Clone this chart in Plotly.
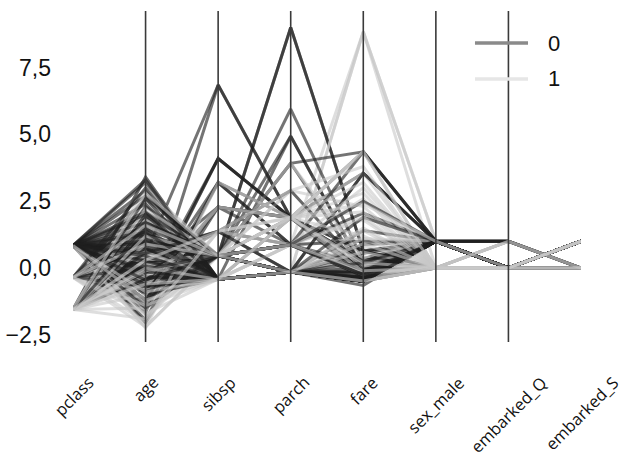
import plotly.graph_objects as go

features = ["pclass", "age", "sibsp", "parch", "fare", "sex_male", "embarked_Q", "embarked_S"]
y_ticks = [-2.5, 0.0, 2.5, 5.0, 7.5]
legend_labels = ["0", "1"]

# standardized rows:
# pclass, age, sibsp, parch, fare, sex_male, embarked_Q, embarked_S
rows_0 = [
    [0.84, -0.53, -0.42, -0.15, -0.50, 1, 0, 1],
    [0.84, 0.40, -0.42, -0.15, -0.49, 1, 0, 1],
    [0.84, 0.00, -0.42, -0.15, -0.48, 1, 1, 0],
    [-1.55, 1.87, -0.42, -0.15, 0.36, 1, 0, 1],
    [0.84, -2.05, 2.28, 0.87, -0.22, 1, 0, 1],
    [0.84, -0.20, 0.46, -0.15, -0.49, 1, 0, 0],
    [0.84, 2.90, -0.42, -0.15, -0.49, 1, 0, 1],
    [-1.55, 0.95, 0.46, -0.15, 0.88, 1, 0, 0],
    [0.84, -0.85, 3.20, 0.87, -0.08, 1, 1, 0],
    [0.84, 0.62, -0.42, 4.93, -0.08, 0, 1, 0],
    [0.84, -1.70, 6.85, 1.88, 0.64, 1, 0, 1],
    [0.84, 0.50, 6.85, 1.88, 0.64, 0, 0, 1],
    [0.84, 1.20, 0.46, 9.00, 0.64, 1, 0, 1],
    [0.84, 0.90, 0.46, 9.00, 0.64, 0, 0, 1],
    [0.84, -1.30, 4.10, 1.88, 0.25, 1, 0, 1],
    [0.84, -0.90, 4.10, 1.88, 0.25, 0, 0, 1],
    [0.84, 0.85, 0.46, 5.95, 0.25, 1, 0, 1],
    [0.84, 0.75, 0.46, 4.93, -0.03, 1, 0, 1],
    [0.84, -1.60, 3.20, 1.88, -0.03, 0, 0, 1],
    [0.84, 0.55, 0.46, 3.92, -0.12, 1, 0, 1],
    [0.84, -1.40, 2.28, 1.88, -0.12, 1, 0, 1],
    [0.84, -1.95, 3.20, 0.87, 0.13, 1, 0, 1],
    [-0.35, 0.30, -0.42, -0.15, -0.39, 1, 0, 1],
    [-0.35, 1.10, 0.46, -0.15, -0.14, 1, 0, 1],
    [-1.55, 0.10, 2.28, 1.88, 4.35, 1, 0, 1],
    [-1.55, 2.30, 0.46, 3.92, 4.35, 1, 0, 1],
    [-1.55, 1.60, 0.46, 1.88, 3.55, 1, 0, 0],
    [-1.55, 0.20, -0.42, -0.15, 3.55, 1, 0, 0],
    [0.84, -0.30, -0.42, -0.15, -0.50, 1, 0, 1],
    [0.84, 0.15, 1.37, -0.15, -0.30, 1, 0, 1],
    [0.84, 1.50, -0.42, -0.15, -0.48, 1, 0, 1],
    [0.84, -0.60, 0.46, -0.15, -0.35, 0, 0, 1],
    [0.84, -1.00, -0.42, -0.15, -0.49, 1, 1, 0],
    [-1.55, 3.40, -0.42, -0.15, 0.00, 1, 0, 0],
    [-0.35, 2.10, 0.46, -0.15, -0.14, 1, 0, 1],
    [0.84, 0.05, 0.46, 0.87, -0.25, 1, 0, 1],
    [0.84, -0.75, -0.42, -0.15, -0.65, 1, 0, 1],
    [-1.55, 0.70, 0.46, -0.15, 1.40, 1, 0, 1],
    [-1.55, 1.30, -0.42, -0.15, 0.55, 1, 0, 1],
    [0.84, 2.40, -0.42, -0.15, -0.49, 1, 0, 1],
    [0.84, -0.10, -0.42, -0.15, -0.49, 1, 0, 1],
    [-0.35, -0.40, -0.42, -0.15, -0.39, 1, 0, 1],
    [0.84, 0.60, 1.37, 0.87, -0.17, 1, 0, 1],
    [-1.55, -0.40, 0.46, 0.87, 2.05, 1, 0, 0],
    [0.84, -0.45, 0.46, -0.15, -0.49, 1, 0, 1],
    [0.84, 1.90, 0.46, 0.87, -0.30, 1, 0, 1],
    [-0.35, 0.25, 0.46, 0.87, -0.10, 1, 0, 1],
    [0.84, -0.95, 2.28, 1.88, -0.10, 0, 0, 1],
    [0.84, 0.30, -0.42, 1.88, -0.30, 0, 0, 1],
    [-1.55, 2.00, 0.46, 0.87, 1.00, 1, 0, 1],
    [0.84, 3.20, -0.42, -0.15, -0.49, 1, 1, 0],
    [-0.35, 1.40, -0.42, -0.15, -0.39, 1, 0, 1],
    [0.84, -0.20, 1.37, 2.90, -0.05, 1, 0, 1],
    [0.84, -1.20, 4.10, 1.88, 0.25, 1, 0, 1],
    [-1.55, 0.60, 0.46, 0.87, 4.35, 1, 0, 0],
    [-1.55, 1.00, 0.46, -0.15, 3.55, 1, 0, 1],
    [0.84, 1.00, -0.42, -0.15, -0.49, 1, 0, 1],
    [0.84, 2.10, -0.42, -0.15, -0.47, 1, 0, 1],
    [0.84, -0.90, 0.46, -0.15, -0.35, 1, 0, 1],
    [-0.35, 2.60, -0.42, -0.15, -0.39, 1, 0, 1],
    [0.84, 0.70, -0.42, -0.15, -0.49, 1, 1, 0],
    [0.84, -0.35, -0.42, -0.15, -0.49, 1, 0, 0],
    [-0.35, -0.70, -0.42, -0.15, -0.39, 1, 0, 1],
    [0.84, 1.70, 0.46, -0.15, -0.35, 1, 0, 1],
    [0.84, 3.30, -0.42, -0.15, -0.49, 1, 0, 1],
    [0.84, -1.50, 0.46, 0.87, -0.30, 1, 0, 1],
    [-0.35, 0.80, 0.46, 0.87, -0.10, 1, 0, 1],
    [0.84, 0.25, -0.42, -0.15, -0.50, 1, 0, 1],
    [0.84, -0.15, -0.42, -0.15, -0.48, 1, 0, 1],
    [-1.55, 1.10, -0.42, -0.15, 0.20, 1, 0, 1],
    [0.84, 2.70, 0.46, -0.15, -0.40, 1, 0, 1],
    [-0.35, 1.70, 0.46, -0.15, -0.14, 1, 0, 1],
    [0.84, -0.65, -0.42, -0.15, -0.49, 1, 0, 1],
    [0.84, 0.90, -0.42, -0.15, -0.49, 1, 0, 0],
    [0.84, -1.20, 0.46, -0.15, -0.40, 1, 0, 1],
    [-0.35, 0.00, -0.42, -0.15, -0.39, 1, 0, 1],
    [0.84, 1.25, 0.46, 0.87, -0.25, 1, 0, 1],
    [0.84, 0.45, -0.42, -0.15, -0.49, 0, 0, 1],
    [-1.55, 2.60, 0.46, -0.15, 1.90, 1, 0, 0],
    [0.84, -0.05, 0.46, -0.15, -0.35, 1, 0, 1],
    [0.84, 2.00, -0.42, -0.15, -0.50, 1, 0, 1],
    [-0.35, 3.00, -0.42, -0.15, -0.39, 1, 0, 1],
    [0.84, 0.55, 1.37, -0.15, -0.20, 1, 0, 1],
    [0.84, -0.45, 0.46, 0.87, -0.25, 1, 0, 1],
    [-1.55, 1.45, 0.46, 0.87, 2.50, 1, 0, 1],
    [0.84, 1.35, -0.42, -0.15, -0.49, 1, 0, 1],
]
rows_1 = [
    [-1.55, 0.65, 0.46, -0.15, 0.79, 0, 0, 0],
    [0.84, -0.25, -0.42, -0.15, -0.49, 0, 0, 1],
    [-1.55, 0.40, 0.46, -0.15, 0.42, 0, 0, 1],
    [-0.35, -1.10, 0.46, -0.15, -0.05, 0, 0, 0],
    [0.84, -2.20, 0.46, 0.87, -0.32, 0, 0, 1],
    [-1.55, 0.50, -0.42, 0.87, 8.84, 1, 0, 0],
    [-1.55, 0.10, -0.42, -0.15, 8.84, 0, 0, 0],
    [-1.55, 0.20, -0.42, -0.15, 8.84, 1, 0, 0],
    [-1.55, 3.40, -0.42, -0.15, 0.00, 1, 0, 1],
    [-0.35, -2.20, 0.46, 0.87, -0.15, 1, 0, 1],
    [0.84, -1.80, 0.46, 0.87, -0.35, 0, 0, 0],
    [-1.55, -1.50, 0.46, 1.88, 2.80, 0, 0, 0],
    [-1.55, 1.50, 0.46, 0.87, 1.80, 0, 0, 1],
    [-1.55, 2.50, -0.42, 0.87, 1.10, 0, 0, 0],
    [0.84, -0.50, -0.42, -0.15, -0.49, 0, 1, 0],
    [-0.35, 0.10, 0.46, 0.87, -0.14, 0, 0, 1],
    [-1.55, -0.20, 0.46, 1.88, 4.35, 0, 0, 1],
    [-1.55, 0.80, 0.46, 1.88, 3.55, 0, 0, 0],
    [-0.35, -2.00, 1.37, 0.87, 0.00, 0, 0, 1],
    [0.84, -1.30, 0.46, 2.90, -0.10, 0, 0, 1],
    [-1.55, 1.00, -0.42, -0.15, 1.50, 0, 0, 0],
    [-1.55, -0.70, 2.28, 1.88, 4.35, 0, 0, 1],
    [0.84, 0.20, -0.42, -0.15, -0.48, 1, 0, 1],
    [-0.35, 2.00, 0.46, 3.92, 0.30, 0, 0, 1],
    [-1.55, 1.80, 0.46, 2.90, 2.30, 0, 0, 0],
    [-1.55, 0.30, 0.46, -0.15, 1.10, 1, 0, 1],
    [-0.35, -0.80, -0.42, 1.88, -0.14, 0, 0, 1],
    [-1.55, -1.00, 2.28, 1.88, 4.35, 0, 0, 1],
    [0.84, -1.60, 1.37, 0.87, -0.20, 0, 1, 0],
    [-1.55, 3.00, 0.46, -0.15, 1.40, 0, 0, 0],
    [-0.35, 0.60, -0.42, -0.15, -0.39, 0, 0, 1],
    [-1.55, -0.30, 1.37, 1.88, 2.10, 0, 0, 0],
    [0.84, -2.25, 3.20, 1.88, 0.10, 0, 0, 1],
    [-1.55, 0.90, -0.42, -0.15, 0.60, 0, 0, 1],
    [-1.55, 2.20, 0.46, 0.87, 3.00, 0, 0, 0],
    [-0.35, -1.70, -0.42, 0.87, -0.25, 0, 0, 1],
    [-1.55, -0.10, 0.46, 0.87, 2.60, 0, 0, 1],
    [-0.35, -1.40, -0.42, 0.87, -0.20, 0, 0, 1],
    [-1.55, 1.20, 0.46, 1.88, 3.20, 0, 0, 0],
    [0.84, -0.90, -0.42, -0.15, -0.49, 0, 0, 1],
    [-1.55, 0.00, -0.42, 0.87, 1.90, 0, 0, 0],
    [-0.35, 0.90, 0.46, 1.88, 0.20, 0, 0, 1],
    [-1.55, -1.90, 1.37, 1.88, 2.40, 1, 0, 1],
    [-1.55, 2.80, 0.46, -0.15, 0.90, 0, 0, 1],
    [0.84, -1.20, -0.42, -0.15, -0.49, 0, 1, 0],
    [-0.35, 1.60, 0.46, 0.87, -0.10, 0, 0, 1],
    [-1.55, 0.30, 1.37, 2.90, 3.80, 0, 0, 0],
    [-1.55, -0.60, -0.42, 1.88, 1.20, 0, 0, 1],
]

line_colors = {0: "rgba(30,30,30,0.62)", 1: "rgba(200,200,200,0.6)"}
legend_colors = {0: "#8a8a8a", 1: "#e6e6e6"}

# interleave the two classes in drawing order
ordered = []
j1 = 0
for k, r in enumerate(rows_0):
    ordered.append((0, r))
    if k % 2 == 1 and j1 < len(rows_1):
        ordered.append((1, rows_1[j1]))
        j1 += 1
ordered += [(1, r) for r in rows_1[j1:]]

fig = go.Figure()
for cls, r in ordered:
    fig.add_trace(go.Scatter(
        x=features, y=r, mode="lines",
        line=dict(color=line_colors[cls], width=3),
        showlegend=False, hoverinfo="skip"))

# inner vertical axes
for k in range(1, len(features) - 1):
    fig.add_shape(type="line", xref="x", yref="paper", x0=features[k], x1=features[k],
                  y0=0, y1=1, line=dict(color="#3a3a3a", width=1.6), layer="above")

# rotated category labels, centred under each axis
for f in features:
    fig.add_annotation(x=f, xref="x", y=-0.08, yref="paper", text=f, showarrow=False,
                       textangle=-45, xanchor="center", yanchor="top",
                       font=dict(family="Open Sans", size=16.5, color="#111"))

# legend (drawn in paper coordinates)
leg_y = [0.9033, 0.7946]
for c, lab in enumerate(legend_labels):
    fig.add_shape(type="line", xref="paper", yref="paper", x0=0.7913, x1=0.8957,
                  y0=leg_y[c], y1=leg_y[c], line=dict(color=legend_colors[c], width=3.5),
                  layer="above")
    fig.add_annotation(x=0.931, y=leg_y[c], xref="paper", yref="paper", text=lab,
                       showarrow=False, xanchor="left", yanchor="middle",
                       font=dict(family="Liberation Sans", size=22, color="#111"))

fig.update_layout(
    width=623, height=461,
    margin=dict(l=73, r=42, t=11, b=119),
    plot_bgcolor="white", paper_bgcolor="white",
    separators=",.",
    showlegend=False,
    xaxis=dict(type="category", categoryarray=features, range=[0, 7], automargin=False,
               showgrid=False, zeroline=False, showline=False, showticklabels=False, ticks=""),
    yaxis=dict(range=[-2.77, 9.62], tickvals=y_ticks, tickformat=".1f", automargin=False,
               showgrid=False, zeroline=False, showline=False, ticks="",
               ticklabelstandoff=21,
               tickfont=dict(family="Liberation Sans", size=23, color="#111")),
)

fig.write_html("out.html", config={"displayModeBar": False},
               post_script="document.body.style.margin='0';")
